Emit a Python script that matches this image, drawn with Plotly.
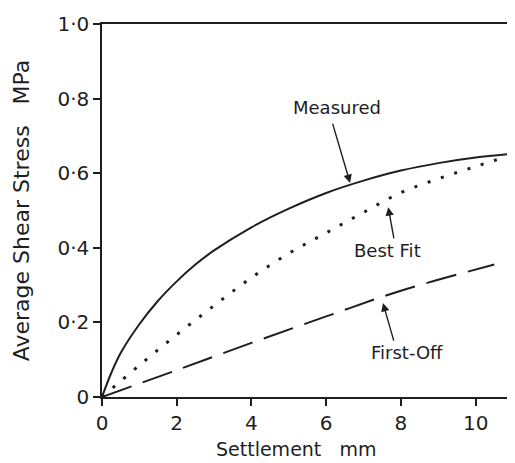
import plotly.graph_objects as go

# settlement (mm) and average shear stress (MPa)
measured_x = [0, 0.25, 0.5, 1, 1.5, 2, 2.5, 3, 4, 5, 6, 7, 8, 9, 10, 11]
measured_y = [0, 0.065, 0.118, 0.195, 0.258, 0.31, 0.355, 0.393, 0.455, 0.505, 0.547, 0.58, 0.607, 0.627, 0.642, 0.652]

bestfit_x = [0, 1, 2, 3, 4, 5, 6, 7, 8, 9, 10, 11]
bestfit_y = [0, 0.085, 0.167, 0.245, 0.32, 0.385, 0.44, 0.495, 0.548, 0.585, 0.618, 0.65]

firstoff_x = [0, 2, 4, 6, 8, 10.5]
firstoff_y = [0, 0.072, 0.145, 0.216, 0.285, 0.355]

y_ticks = [0, 0.2, 0.4, 0.6, 0.8, 1.0]
y_labels = ["0", "0·2", "0·4", "0·6", "0·8", "1·0"]
x_ticks = [0, 2, 4, 6, 8, 10]
x_labels = ["0", "2", "4", "6", "8", "10"]

ink = "#1e1e1e"
font = "DejaVu Sans"
gap = "\u00a0\u00a0\u00a0"

fig = go.Figure()
fig.add_trace(go.Scatter(x=measured_x, y=measured_y, mode="lines",
                         line=dict(color=ink, width=2, shape="spline")))
fig.add_trace(go.Scatter(x=bestfit_x, y=bestfit_y, mode="lines",
                         line=dict(color=ink, width=3, shape="spline", dash="3px,11px")))
fig.add_trace(go.Scatter(x=firstoff_x, y=firstoff_y, mode="lines",
                         line=dict(color=ink, width=2, shape="spline", dash="31px,12px")))

# labels and their pointer arrows
labels = [("Measured", 6.29, 0.775, 6.16, 0.737, 6.64, 0.574),
          ("Best Fit", 7.63, 0.394, 7.82, 0.421, 7.66, 0.509),
          ("First-Off", 8.16, 0.118, 7.82, 0.147, 7.52, 0.252)]
for txt, tx, ty, ax, ay, hx, hy in labels:
    fig.add_annotation(x=tx, y=ty, text=txt, showarrow=False,
                       font=dict(family=font, size=18, color=ink))
    fig.add_annotation(x=hx, y=hy, ax=ax, ay=ay, axref="x", ayref="y",
                       text="", showarrow=True, arrowhead=2, arrowsize=1.2,
                       arrowwidth=1.4, arrowcolor=ink)

# x axis title, a bit left of centre as in the original
fig.add_annotation(xref="paper", yref="paper", x=0.472, y=-0.14,
                   text="Settlement" + gap + "mm", showarrow=False,
                   yanchor="middle", font=dict(family=font, size=19, color=ink))

# page body has an 8px margin, so the figure is 8px smaller each way
fig.update_layout(
    width=507, height=455,
    margin=dict(l=94, r=2, t=16, b=66),
    plot_bgcolor="white", paper_bgcolor="white",
    showlegend=False,
    font=dict(family=font, color=ink),
    xaxis=dict(range=[0, 11], tickvals=x_ticks, ticktext=x_labels,
               automargin=False,
               showgrid=False, zeroline=False, showline=True, mirror=True,
               linecolor=ink, linewidth=1.5, ticks="outside", ticklen=7,
               tickcolor=ink, tickwidth=1.5, tickfont=dict(size=20)),
    yaxis=dict(range=[0, 1], tickvals=y_ticks, ticktext=y_labels,
               automargin=False,
               showgrid=False, zeroline=False, showline=True, mirror=True,
               linecolor=ink, linewidth=1.5, ticks="outside", ticklen=7,
               tickcolor=ink, tickwidth=1.5, tickfont=dict(size=20),
               title=dict(text="Average Shear Stress" + gap + "MPa",
                          font=dict(size=22), standoff=22)),
)

fig.write_html("out.html")
